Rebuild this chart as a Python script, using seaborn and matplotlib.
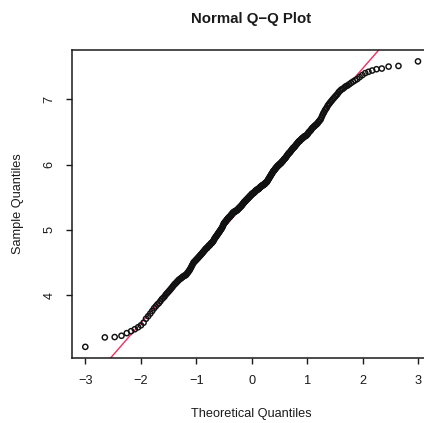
import numpy as np
import pandas as pd
import matplotlib
matplotlib.use("Agg")
import matplotlib.pyplot as plt
import seaborn as sns
from statistics import NormalDist

# Sorted sample values (n = 370)
sample_values = [
    3.21, 3.355, 3.36, 3.38, 3.42, 3.45, 3.48, 3.51, 3.54, 3.58,
    3.64, 3.68, 3.72, 3.76, 3.80, 3.83, 3.86, 3.88, 3.91, 3.94,
    3.96, 3.98, 4.01, 4.03, 4.05, 4.07, 4.09, 4.11, 4.13, 4.15,
    4.17, 4.18, 4.20, 4.21, 4.23, 4.24, 4.25, 4.26, 4.27, 4.28,
    4.29, 4.30, 4.30, 4.31, 4.32, 4.34, 4.35, 4.37, 4.38, 4.40,
    4.42, 4.44, 4.46, 4.48, 4.50, 4.51, 4.52, 4.53, 4.54, 4.55,
    4.56, 4.57, 4.58, 4.59, 4.60, 4.61, 4.62, 4.63, 4.64, 4.65,
    4.66, 4.67, 4.68, 4.69, 4.70, 4.71, 4.72, 4.72, 4.73, 4.74,
    4.75, 4.76, 4.76, 4.77, 4.78, 4.79, 4.80, 4.80, 4.81, 4.82,
    4.83, 4.84, 4.86, 4.87, 4.88, 4.89, 4.90, 4.91, 4.92, 4.93,
    4.94, 4.95, 4.96, 4.97, 4.98, 4.99, 5.00, 5.01, 5.02, 5.03,
    5.04, 5.06, 5.07, 5.09, 5.10, 5.11, 5.12, 5.12, 5.13, 5.14,
    5.15, 5.16, 5.16, 5.17, 5.18, 5.19, 5.19, 5.20, 5.20, 5.21,
    5.22, 5.23, 5.23, 5.24, 5.25, 5.26, 5.26, 5.27, 5.27, 5.28,
    5.28, 5.28, 5.29, 5.29, 5.29, 5.30, 5.30, 5.31, 5.31, 5.32,
    5.33, 5.33, 5.34, 5.34, 5.35, 5.36, 5.36, 5.37, 5.37, 5.38,
    5.39, 5.40, 5.40, 5.41, 5.42, 5.43, 5.43, 5.44, 5.44, 5.45,
    5.46, 5.46, 5.47, 5.47, 5.48, 5.49, 5.49, 5.50, 5.50, 5.51,
    5.52, 5.52, 5.53, 5.53, 5.54, 5.55, 5.55, 5.56, 5.56, 5.56,
    5.57, 5.57, 5.58, 5.58, 5.59, 5.60, 5.60, 5.61, 5.61, 5.61,
    5.62, 5.62, 5.63, 5.63, 5.63, 5.64, 5.65, 5.65, 5.66, 5.66,
    5.67, 5.67, 5.68, 5.68, 5.68, 5.69, 5.69, 5.70, 5.70, 5.70,
    5.71, 5.72, 5.72, 5.73, 5.73, 5.74, 5.75, 5.76, 5.77, 5.78,
    5.79, 5.80, 5.81, 5.82, 5.83, 5.84, 5.85, 5.86, 5.87, 5.88,
    5.89, 5.90, 5.91, 5.91, 5.92, 5.93, 5.94, 5.95, 5.95, 5.96,
    5.97, 5.98, 5.98, 5.99, 5.99, 6.00, 6.01, 6.01, 6.02, 6.02,
    6.03, 6.04, 6.05, 6.05, 6.06, 6.07, 6.08, 6.09, 6.09, 6.10,
    6.11, 6.12, 6.13, 6.14, 6.15, 6.16, 6.17, 6.18, 6.18, 6.19,
    6.20, 6.21, 6.22, 6.23, 6.24, 6.25, 6.26, 6.26, 6.27, 6.28,
    6.29, 6.30, 6.31, 6.32, 6.33, 6.34, 6.35, 6.36, 6.36, 6.37,
    6.38, 6.39, 6.40, 6.40, 6.41, 6.42, 6.43, 6.43, 6.44, 6.44,
    6.45, 6.46, 6.47, 6.49, 6.50, 6.51, 6.52, 6.53, 6.55, 6.56,
    6.57, 6.58, 6.59, 6.60, 6.61, 6.62, 6.63, 6.65, 6.66, 6.68,
    6.69, 6.72, 6.75, 6.78, 6.80, 6.83, 6.85, 6.87, 6.90, 6.92,
    6.94, 6.96, 6.98, 7.00, 7.02, 7.04, 7.06, 7.08, 7.11, 7.13,
    7.15, 7.16, 7.18, 7.20, 7.21, 7.23, 7.25, 7.27, 7.29, 7.31,
    7.34, 7.37, 7.40, 7.42, 7.44, 7.46, 7.47, 7.50, 7.51, 7.58,
]
x_ticks = [-3, -2, -1, 0, 1, 2, 3]
y_ticks = [4, 5, 6, 7]
title = "Normal Q\u2212Q Plot"
x_label = "Theoretical Quantiles"
y_label = "Sample Quantiles"

# Theoretical quantiles (R's ppoints / qnorm)
n = len(sample_values)
nd = NormalDist()
theoretical = [nd.inv_cdf((i + 0.5) / n) for i in range(n)]
df = pd.DataFrame({"theoretical": theoretical, "sample": sample_values})

sns.set_style("white")
plt.rcParams["font.family"] = ["Liberation Sans", "DejaVu Sans"]

ink = "#1a1a1a"
fig = plt.figure(figsize=(4.24, 4.23), dpi=100)
ax = fig.add_axes([0.1698, 0.153, 0.8474, 0.7289])

sns.scatterplot(data=df, x="theoretical", y="sample", ax=ax,
                marker="o", s=14, fc="none", ec="#111111", linewidth=1.05,
                zorder=3)

# qqline through the quartiles
q1, q3 = np.percentile(df["sample"], [25, 75])
z1, z3 = nd.inv_cdf(0.25), nd.inv_cdf(0.75)
slope = (q3 - q1) / (z3 - z1)
intercept = q1 - slope * z1
ax.axline((0, intercept), slope=slope, color="#ee2f62", lw=1.0, zorder=2)

# R-style 4% axis extension
xr = df["theoretical"].max() - df["theoretical"].min()
yr = df["sample"].max() - df["sample"].min()
ax.set_xlim(df["theoretical"].min() - 0.04 * xr, df["theoretical"].max() + 0.04 * xr)
ax.set_ylim(df["sample"].min() - 0.04 * yr, df["sample"].max() + 0.04 * yr)

ax.set_xticks(x_ticks)
ax.set_xticklabels([str(t).replace("-", "\u2212") for t in x_ticks])
ax.set_yticks(y_ticks)
ax.set_yticklabels([str(t) for t in y_ticks])
ax.tick_params(axis="both", direction="out", length=4.3, width=1.0,
               color=ink, labelsize=9.2, labelcolor=ink,
               bottom=True, left=True)
ax.tick_params(axis="x", pad=7.5)
ax.tick_params(axis="y", pad=7.5, labelrotation=90)
for lab in ax.get_yticklabels():
    lab.set_va("center")

for sp in ax.spines.values():
    sp.set_visible(True)
    sp.set_color(ink)
    sp.set_linewidth(1.1)

ax.set_xlabel(x_label, fontsize=9.2, color=ink)
ax.set_ylabel(y_label, fontsize=9.2, color=ink)
ax.xaxis.set_label_coords(0.4996, -0.1807)
ax.xaxis.label.set_va("center")
ax.yaxis.set_label_coords(-0.150, 0.5)
ax.yaxis.label.set_va("center")

fig.text(251.5 / 424, 1 - 18.5 / 423, title, ha="center", va="center",
         fontsize=10.8, fontweight="bold", color=ink)

fig.savefig("out.png", dpi=100)
